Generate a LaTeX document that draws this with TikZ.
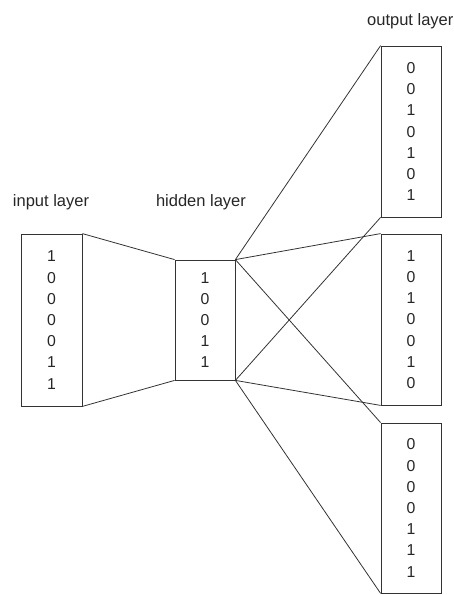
\documentclass[tikz,border=0pt]{standalone}
\usepackage{fontspec}
\setmainfont{Liberation Sans}
\begin{document}
\begin{tikzpicture}[x=1pt,y=-1pt,
  layerbox/.style={draw=black!80,line width=0.8pt,inner sep=0pt,align=center,
    font=\fontsize{15.8}{21.2}\selectfont,text=black!85},
  lbl/.style={font=\fontsize{16.5}{18}\selectfont,text=black!85,inner sep=0pt},
  conn/.style={draw=black!80,line width=0.8pt}]
\useasboundingbox (0,0) rectangle (453,595);
\node[layerbox,minimum width=61pt,minimum height=172pt] (in) at (51.5,320) {1\\0\\0\\0\\0\\1\\1};
\node[layerbox,minimum width=60pt,minimum height=120pt] (hid) at (205,320) {1\\0\\0\\1\\1};
\node[layerbox,minimum width=60pt,minimum height=171pt] (o1) at (411,131.5) {0\\0\\1\\0\\1\\0\\1};
\node[layerbox,minimum width=60pt,minimum height=171pt] (o2) at (411,319.5) {1\\0\\1\\0\\0\\1\\0};
\node[layerbox,minimum width=60pt,minimum height=170pt] (o3) at (411,508) {0\\0\\0\\0\\1\\1\\1};
\node[lbl,anchor=base] (lin) at (51,206) {input layer};
\node[lbl,anchor=base] (lhid) at (201,206) {hidden layer};
\node[lbl,anchor=base west] (lout) at (367,25) {output layer};
\draw[conn] (in.north east) -- (hid.north west);
\draw[conn] (in.south east) -- (hid.south west);
\draw[conn] (hid.north east) -- (o1.north west);
\draw[conn] (hid.north east) -- (o2.north west);
\draw[conn] (hid.north east) -- (o3.north west);
\draw[conn] (hid.south east) -- (o1.south west);
\draw[conn] (hid.south east) -- (o2.south west);
\draw[conn] (hid.south east) -- (o3.south west);
\end{tikzpicture}
\end{document}
